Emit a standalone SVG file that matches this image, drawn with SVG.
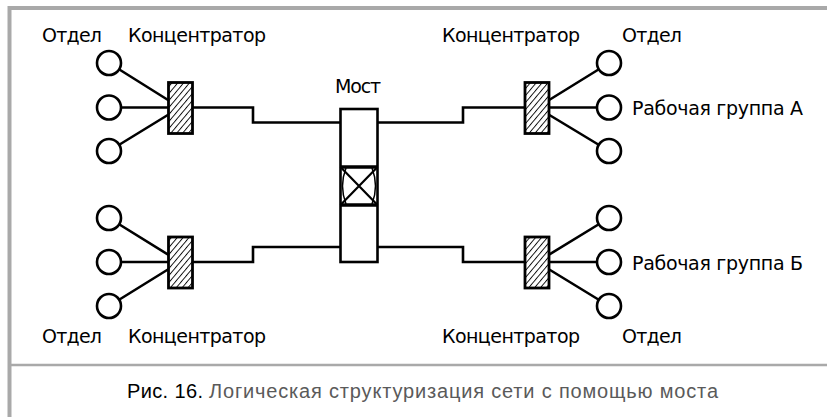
<svg xmlns="http://www.w3.org/2000/svg" width="827" height="417" viewBox="0 0 827 417">
<style>
.lbl{font-family:"DejaVu Sans",sans-serif;font-size:19px;fill:#000}
.ln{fill:none;stroke:#000;stroke-width:2.6}
.node{fill:#fff;stroke:#000;stroke-width:2.6}
.hub{fill:url(#hatch);stroke:#000;stroke-width:2.8}
.frame{stroke:#a9a9a9;fill:none}
.cap{font-family:"Liberation Sans",Arial,sans-serif;font-size:20px}
</style>
<defs>
<pattern id="hatch" patternUnits="userSpaceOnUse" width="4.5" height="4.5" patternTransform="rotate(40)">
<rect width="4.5" height="4.5" fill="#fff"/>
<line x1="0.5" y1="0" x2="0.5" y2="4.5" stroke="#000" stroke-width="0.9"/>
</pattern>
</defs>
<rect width="827" height="417" fill="#fff"/>
<g id="frame">
<line class="frame" x1="9.5" y1="8" x2="827" y2="8" stroke-width="4"/>
<line class="frame" x1="9.5" y1="6" x2="9.5" y2="417" stroke-width="4"/>
<line class="frame" x1="11" y1="365" x2="827" y2="365" stroke-width="2.5"/>
</g>
<g id="connectors">
<path class="ln" d="M109 63L180 107.5M109 107.5H180M109 151L180 107.5"/>
<path class="ln" d="M109 218L180 262M109 262H180M109 306L180 262"/>
<path class="ln" d="M609 63L537 107.5M609 107.5H537M609 151L537 107.5"/>
<path class="ln" d="M609 218L537 262M609 262H537M609 306L537 262"/>
<path class="ln" d="M192 107.5H253V122.5H340"/>
<path class="ln" d="M192 262H253V247H340"/>
<path class="ln" d="M378 122.5H463V107.5H525"/>
<path class="ln" d="M378 247H463V262H525"/>
</g>
<g id="bridge">
<rect class="node" x="340.5" y="109" width="37" height="153"/>
<path d="M340.5 167H377.5M340.5 205H377.5" stroke="#000" stroke-width="3.5"/>
<path d="M340.5 167L377.5 205M377.5 167L340.5 205" stroke="#000" stroke-width="2.2"/>
<path d="M346 168Q339 186 346 204M372 168Q379 186 372 204" fill="none" stroke="#000" stroke-width="1.5"/>
</g>
<g id="hub-tl"><rect class="hub" x="168.5" y="82.5" width="24" height="51"/></g>
<g id="hub-bl"><rect class="hub" x="168.5" y="237" width="24" height="51"/></g>
<g id="hub-tr"><rect class="hub" x="525" y="82.5" width="24" height="51"/></g>
<g id="hub-br"><rect class="hub" x="525" y="237" width="24" height="51"/></g>
<g id="nodes-tl"><circle class="node" cx="109" cy="63" r="12"/><circle class="node" cx="109" cy="107.5" r="12"/><circle class="node" cx="109" cy="151" r="12"/></g>
<g id="nodes-bl"><circle class="node" cx="109" cy="218" r="12"/><circle class="node" cx="109" cy="262" r="12"/><circle class="node" cx="109" cy="306" r="12"/></g>
<g id="nodes-tr"><circle class="node" cx="609" cy="63" r="12"/><circle class="node" cx="609" cy="107.5" r="12"/><circle class="node" cx="609" cy="151" r="12"/></g>
<g id="nodes-br"><circle class="node" cx="609" cy="218" r="12"/><circle class="node" cx="609" cy="262" r="12"/><circle class="node" cx="609" cy="306" r="12"/></g>
<g id="labels">
<text class="lbl" x="42" y="42" textLength="60">Отдел</text>
<text class="lbl" x="128" y="42" textLength="138">Концентратор</text>
<text class="lbl" x="442" y="42" textLength="138">Концентратор</text>
<text class="lbl" x="622" y="42" textLength="60">Отдел</text>
<text class="lbl" x="335" y="93" textLength="46">Мост</text>
<text class="lbl" x="632" y="115" textLength="171">Рабочая группа А</text>
<text class="lbl" x="632" y="270" textLength="171">Рабочая группа Б</text>
<text class="lbl" x="42" y="343" textLength="60">Отдел</text>
<text class="lbl" x="128" y="343" textLength="138">Концентратор</text>
<text class="lbl" x="442" y="343" textLength="138">Концентратор</text>
<text class="lbl" x="622" y="343" textLength="60">Отдел</text>
</g>
<g id="caption">
<text class="cap" x="127" y="398" fill="#000" textLength="76">Рис. 16.</text>
<text class="cap" x="209" y="398" fill="#5a5a5a" textLength="509">Логическая структуризация сети с помощью моста</text>
</g>
</svg>
